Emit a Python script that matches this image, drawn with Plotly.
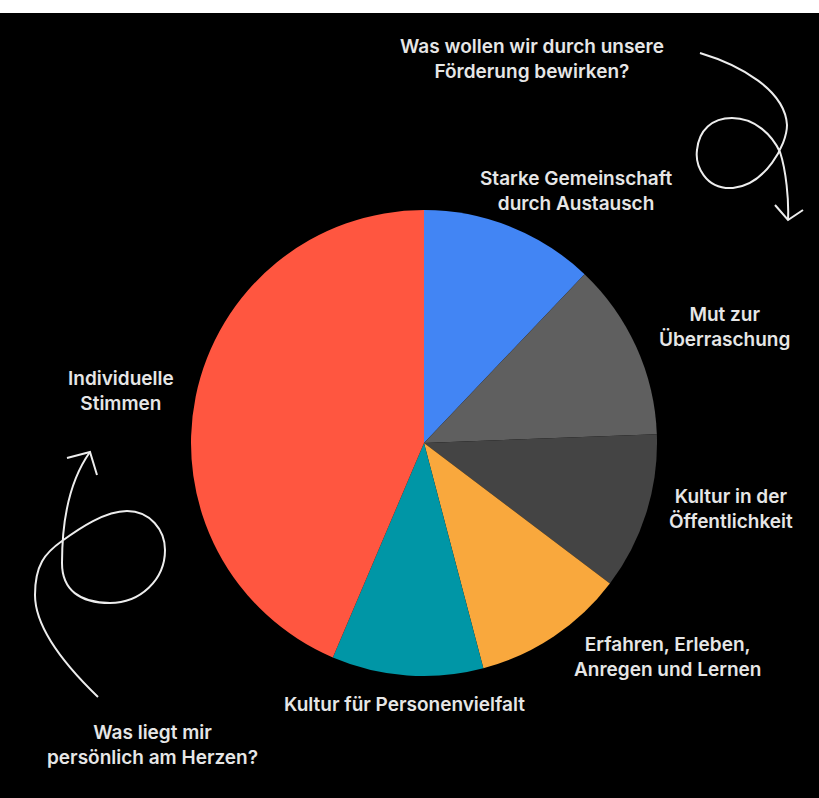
import plotly.graph_objects as go

W, H = 819, 798

categories = [
    "Starke Gemeinschaft<br>durch Austausch",
    "Mut zur<br>Überraschung",
    "Kultur in der<br>Öffentlichkeit",
    "Erfahren, Erleben,<br>Anregen und Lernen",
    "Kultur für Personenvielfalt",
    "Individuelle<br>Stimmen",
]
values = [12.1, 12.3, 10.9, 10.6, 10.5, 43.6]
colors = ["#4285F4", "#5F5F5F", "#444444", "#F9A83D", "#0096A6", "#FF5640"]

# label placement (pixel centers)
label_pos = [(576, 191), (724, 327), (731, 509), (667, 657), (404, 704), (121, 391)]
questions = ["Was wollen wir durch unsere<br>Förderung bewirken?",
             "Was liegt mir<br>persönlich am Herzen?"]
question_pos = [(532, 59), (152, 745)]

cx, cy, R = 424, 443, 233

fig = go.Figure()
fig.add_trace(go.Pie(
    labels=categories, values=values, sort=False, direction="clockwise",
    rotation=0, marker=dict(colors=colors, line=dict(width=0)),
    textinfo="none", hoverinfo="label+percent", showlegend=False,
    domain=dict(x=[(cx - R) / W, (cx + R) / W], y=[1 - (cy + R) / H, 1 - (cy - R) / H]),
))

font = dict(family="Inter", size=19, color="#E6E6E6", weight=600)
ann = []
for t, (x, y) in zip(categories + questions, label_pos + question_pos):
    ann.append(dict(text=t, x=x, y=y, xref="x", yref="y", showarrow=False,
                    font=font, align="center", xanchor="center", yanchor="middle"))

arrow_style = dict(color="#EDEDED", width=2)
shapes = [
    dict(type="rect", xref="paper", yref="paper", x0=0, x1=1, y0=1 - 13 / H, y1=1,
         fillcolor="white", line=dict(width=0), layer="above"),
    dict(type="path", xref="x", yref="y", line=arrow_style,
         path="M 700,53 C 740,65 785,90 787,125 C 787,145 765,185 733,188 "
              "C 705,190 695,165 697,150 C 699,130 712,118 732,118 "
              "C 755,118 772,135 780,152 C 786,170 789,200 788,220"),
    dict(type="path", xref="x", yref="y", line=arrow_style,
         path="M 775,205 L 788,220 L 803,210"),
    dict(type="path", xref="x", yref="y", line=arrow_style,
         path="M 98,697 C 70,670 35,630 35,595 C 35,565 45,553 62,541 "
              "C 80,528 105,511 127,511 C 150,511 165,530 165,550 "
              "C 165,580 140,603 110,603 C 80,603 62,590 62,563 "
              "C 62,520 70,480 90,452"),
    dict(type="path", xref="x", yref="y", line=arrow_style,
         path="M 67,458 L 90,452 L 97,475"),
]

fig.update_layout(
    width=W, height=H, margin=dict(l=0, r=0, t=0, b=0),
    paper_bgcolor="black", plot_bgcolor="rgba(0,0,0,0)",
    xaxis=dict(range=[0, W], visible=False, domain=[0, 1], fixedrange=True),
    yaxis=dict(range=[H, 0], visible=False, domain=[0, 1], fixedrange=True),
    annotations=ann, shapes=shapes,
)
fig.write_html("out.html", config={"displayModeBar": False},
               post_script="document.body.style.margin='0';document.body.style.background='black';")
